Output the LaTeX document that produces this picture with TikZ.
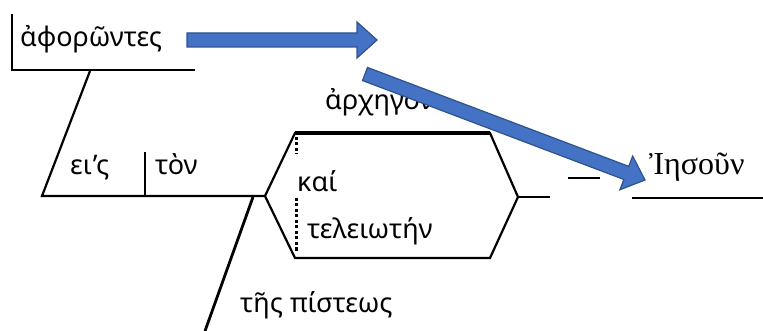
\documentclass[tikz,border=0pt]{standalone}
\usepackage{fontspec}
\setmainfont{Noto Sans}
\newfontfamily\serifgreek{Liberation Serif}
\usetikzlibrary{calc,positioning}
\definecolor{arrowblue}{HTML}{4472C4}
\definecolor{arrowedge}{HTML}{2F528F}
\tikzstyle{word}=[
  font=\fontsize{27}{30}\selectfont,
  inner sep=0pt,
  anchor=base west,
]
\tikzstyle{rule}=[
  draw=black,
  line width=2.2pt,
]
\tikzstyle{blockarrow}=[
  fill=arrowblue,
  draw=arrowedge,
  line width=1.2pt,
]
% block arrow from #1 to #2
\newcommand{\blockarrow}[2]{%
  \draw [blockarrow] ($(#1)!7pt!90:(#2)$) -- ($($(#2)!20pt!(#1)$)!7pt!90:(#2)$)
  -- ($($(#2)!20pt!(#1)$)!18pt!90:(#2)$) -- (#2)
  -- ($($(#2)!20pt!(#1)$)!18pt!-90:(#2)$)
  -- ($($(#2)!20pt!(#1)$)!7pt!-90:(#2)$)
  -- ($(#1)!7pt!-90:(#2)$) -- cycle;}

\begin{document}
\begin{tikzpicture}[x=1pt,y=-1pt]
      \useasboundingbox (0,0) rectangle (763,331);
      %% words
      \node (aphorontes) [word] at (20,47) {ἀφορῶντες};
      \node (eis) [word] at (70,175) {ει’ς};
      \node (ton) [word] at (155,175) {τὸν};
      \node (archegon) [word] at (325,110) {ἀρχηγὸν};
      \node (kai) [word] at (297,192) {καί};
      \node (teleioten) [word] at (307,239) {τελειωτήν};
      \node (pisteos) [word] at (240,312) {τῆς πίστεως};
      \node (iesoun) [word, font={\serifgreek\fontsize{32}{36}\selectfont}] at (649,175) {Ἰησοῦν};
      %% line points
      \coordinate (A1) at (12,14);
      \coordinate (A2) at (12,70);
      \coordinate (A3) at (195,70);
      \coordinate (B1) at (90,71);
      \coordinate (B2) at (42,196);
      \coordinate (D1) at (145,152);
      \coordinate (D2) at (145,196);
      \coordinate (H1) at (265,196);
      \coordinate (H2) at (295,133);
      \coordinate (H3) at (490,133);
      \coordinate (H4) at (518,197);
      \coordinate (H5) at (490,258);
      \coordinate (H6) at (295,258);
      \coordinate (R1) at (550,197);
      \coordinate (E1) at (568,178);
      \coordinate (E2) at (600,178);
      \coordinate (J1) at (632,198);
      \coordinate (J2) at (763,198);
      \coordinate (S1) at (253,197);
      \coordinate (S2) at (205,331);
      \coordinate (K1) at (296,137);
      \coordinate (K2) at (296,154);
      \coordinate (K3) at (296,198);
      \coordinate (K4) at (296,252);
      %%
      \draw [rule] (A1) -- (A2) -- (A3);
      \draw [rule] (B1) -- (B2) -- (H1);
      \draw [rule] (D1) -- (D2);
      \draw [rule] (H1) -- (H2) -- (H3) -- (H4) -- (H5) -- (H6) -- cycle;
      \draw [rule, line width=3.2pt] (H2) -- (H3);
      \draw [rule] (H4) -- (R1);
      \draw [rule] (E1) -- (E2);
      \draw [rule] (J1) -- (J2);
      \draw [rule, line width=2.8pt] (S1) -- (S2);
      \draw [rule, dash pattern=on 3pt off 2.5pt, line width=3pt] (K1) -- (K2);
      \draw [rule, dash pattern=on 3pt off 2.5pt, line width=3pt] (K3) -- (K4);
      %% blue arrows
      \coordinate (T1) at (187,40);
      \coordinate (P1) at (377,40);
      \coordinate (T2) at (365,74);
      \coordinate (P2) at (645,180);
      \blockarrow{T1}{P1}
      \blockarrow{T2}{P2}
    \end{tikzpicture}
\end{document}
